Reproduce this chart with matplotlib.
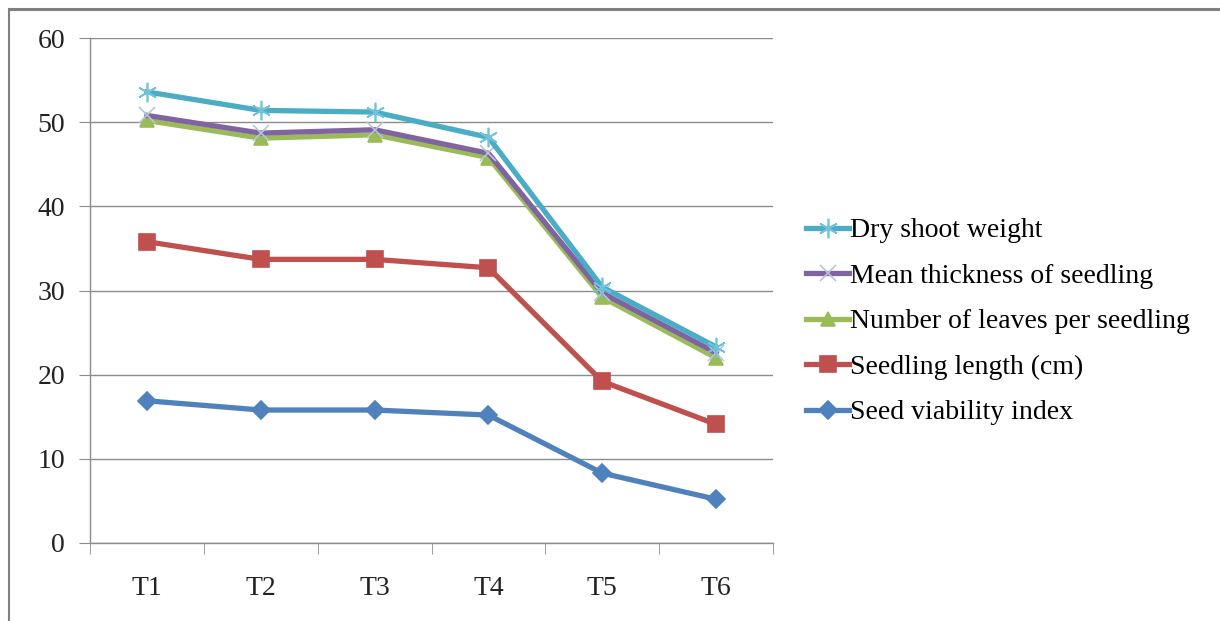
import matplotlib
matplotlib.use("Agg")
import matplotlib.pyplot as plt
from matplotlib.lines import Line2D

plt.rcParams['font.family'] = ['Liberation Serif', 'DejaVu Serif']

treatments = ["T1", "T2", "T3", "T4", "T5", "T6"]

dry_shoot_weight = [53.6, 51.4, 51.2, 48.2, 30.4, 23.3]
mean_thickness = [50.8, 48.7, 49.1, 46.3, 29.7, 22.6]
leaves_per_seedling = [50.2, 48.1, 48.5, 45.8, 29.2, 22.0]
seedling_length = [35.8, 33.7, 33.7, 32.7, 19.2, 14.1]
seed_viability = [16.9, 15.8, 15.8, 15.2, 8.3, 5.2]

series = [
    ("Seed viability index", seed_viability, "#4F81BD", "D", 9),
    ("Seedling length (cm)", seedling_length, "#C0504D", "s", 11),
    ("Number of leaves per seedling", leaves_per_seedling, "#9BBB59", "^", 10),
    ("Mean thickness of seedling", mean_thickness, "#8064A2", "x", 11),
    ("Dry shoot weight", dry_shoot_weight, "#4BACC6", (6, 2, 0), 14),
]

fig = plt.figure(figsize=(12.2, 6.21), dpi=100)
ax = fig.add_axes([90 / 1220, 78 / 621, 683 / 1220, 505 / 621])

x = range(len(treatments))
handles = {}
for name, vals, color, marker, ms in series:
    if marker == "x":
        edge = "#B4C6DA"
    elif marker == (6, 2, 0):
        edge = "#6FC3D8"
    else:
        edge = color
    ln, = ax.plot(x, vals, color=color, lw=3.8, marker=marker, ms=ms,
                  markeredgecolor=edge, markeredgewidth=1.2, zorder=3)
    handles[name] = ln

ax.set_xlim(-0.5, len(treatments) - 0.5)
ax.set_ylim(0, 60)
ax.set_yticks(range(0, 61, 10))
ax.set_xticks(list(x))
ax.set_xticklabels(treatments)
ax.set_xticks([i - 0.5 for i in range(len(treatments) + 1)], minor=True)

ax.grid(axis="y", color="#8C8C8C", lw=1.0, zorder=0)
ax.set_axisbelow(True)
for s in ("top", "right"):
    ax.spines[s].set_visible(False)
for s in ("left", "bottom"):
    ax.spines[s].set_color("#8C8C8C")
    ax.spines[s].set_linewidth(1.0)

ax.tick_params(axis="y", length=8, color="#8C8C8C", labelsize=20, pad=10,
               labelcolor="#222222")
ax.tick_params(axis="x", which="major", length=0, labelsize=20, pad=24,
               labelcolor="#222222")
ax.tick_params(axis="x", which="minor", length=8, color="#8C8C8C")

order = ["Dry shoot weight", "Mean thickness of seedling",
         "Number of leaves per seedling", "Seedling length (cm)",
         "Seed viability index"]
fig.legend([handles[n] for n in order], order, loc="upper left",
           bbox_to_anchor=(806 / 1220, 1 - 218 / 621), frameon=False,
           fontsize=20, handlelength=1.55, handletextpad=0.05,
           labelspacing=0.72, borderaxespad=0, borderpad=0)

# Outer frame (top and left edges)
fig.add_artist(Line2D([9 / 1220, 1], [1 - 9 / 621, 1 - 9 / 621],
                      transform=fig.transFigure, color="#7F7F7F", lw=2.2))
fig.add_artist(Line2D([9 / 1220, 9 / 1220], [0, 1 - 9 / 621],
                      transform=fig.transFigure, color="#7F7F7F", lw=1.5))

fig.savefig("out.png", dpi=100)
